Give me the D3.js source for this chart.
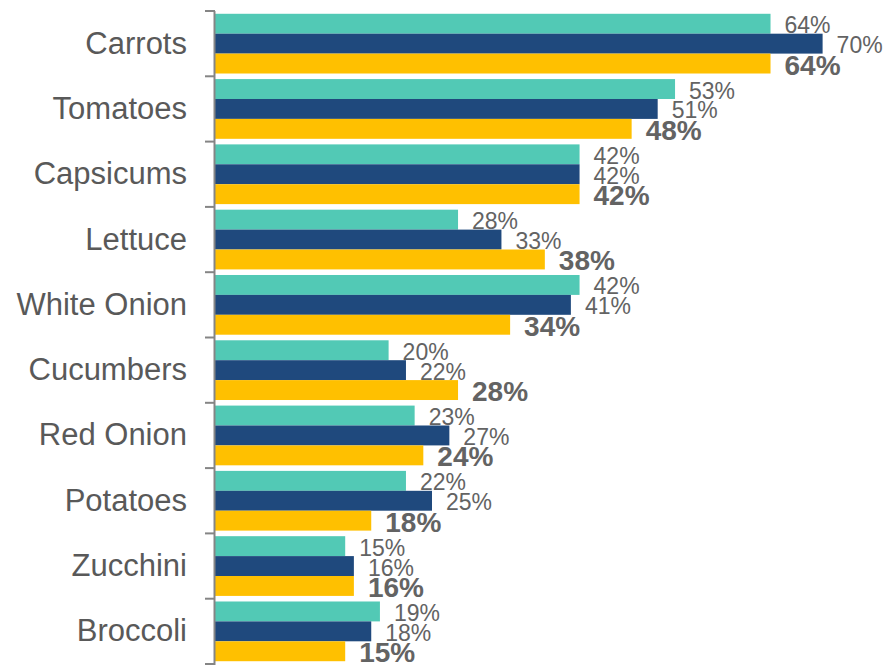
<!DOCTYPE html>
<html>
<head>
<meta charset="utf-8">
<script src="https://cdn.jsdelivr.net/npm/d3@7"></script>
<style>
  html, body { margin: 0; padding: 0; background: #fff; }
  svg { display: block; font-family: "Liberation Sans", Arial, sans-serif; }
</style>
</head>
<body>
<svg id="chart" width="886" height="665"></svg>
<script>
// Vegetables, top to bottom
const categories = ["Carrots", "Tomatoes", "Capsicums", "Lettuce", "White Onion",
                    "Cucumbers", "Red Onion", "Potatoes", "Zucchini", "Broccoli"];
const seriesNames = ["A", "B", "C"];
// Percentages for each series
const seriesA = [64, 53, 42, 28, 42, 20, 23, 22, 15, 19];
const seriesB = [70, 51, 42, 33, 41, 22, 27, 25, 16, 18];
const seriesC = [64, 48, 42, 38, 34, 28, 24, 18, 16, 15];

const values = [seriesA, seriesB, seriesC];
const colors = ["#52C9B5", "#1F497D", "#FFC000"];

const svg = d3.select("#chart");

const axisX = 215;
const x = d3.scaleLinear().domain([0, 70]).range([axisX, 822.6]);
const y0 = d3.scaleBand().domain(categories).range([11, 664]).padding(0);
const y1 = d3.scaleBand().domain(seriesNames).range([0, y0.bandwidth()])
  .paddingInner(0).paddingOuter(0.14);

const rows = categories.map((c, i) => ({
  cat: c,
  vals: seriesNames.map((s, j) => ({ s, j, v: values[j][i] }))
}));

const g = svg.selectAll("g.cat").data(rows).join("g")
  .attr("class", "cat")
  .attr("transform", d => `translate(0,${y0(d.cat)})`);

// Bars
g.selectAll("rect").data(d => d.vals).join("rect")
  .attr("x", x(0))
  .attr("y", d => y1(d.s))
  .attr("width", d => x(d.v) - x(0))
  .attr("height", y1.bandwidth())
  .attr("fill", d => colors[d.j]);

// Value labels
g.selectAll("text.val").data(d => d.vals).join("text")
  .attr("class", "val")
  .attr("x", d => x(d.v) + 14)
  .attr("y", d => y1(d.s) + y1.bandwidth() / 2 + (d.j === 2 ? 11 : 9.5))
  .attr("font-size", d => d.j === 2 ? 28 : 23)
  .attr("font-weight", d => d.j === 2 ? "bold" : "normal")
  .attr("fill", "#636363")
  .text(d => d.v + "%");

// Category labels
svg.selectAll("text.cat").data(categories).join("text")
  .attr("class", "cat")
  .attr("x", 187)
  .attr("y", d => y0(d) + y0.bandwidth() / 2 + 10)
  .attr("text-anchor", "end")
  .attr("font-size", 31)
  .attr("fill", "#595959")
  .text(d => d);

// Vertical axis with ticks at category boundaries
const bounds = categories.map(c => y0(c)).concat([y0.range()[1]]);
svg.append("line")
  .attr("x1", axisX - 0.5).attr("x2", axisX - 0.5)
  .attr("y1", bounds[0]).attr("y2", 665)
  .attr("stroke", "#858585").attr("stroke-width", 2);
svg.selectAll("line.tick").data(bounds).join("line")
  .attr("class", "tick")
  .attr("x1", 205).attr("x2", axisX)
  .attr("y1", d => d).attr("y2", d => d)
  .attr("stroke", "#858585").attr("stroke-width", 2);
</script>
</body>
</html>
